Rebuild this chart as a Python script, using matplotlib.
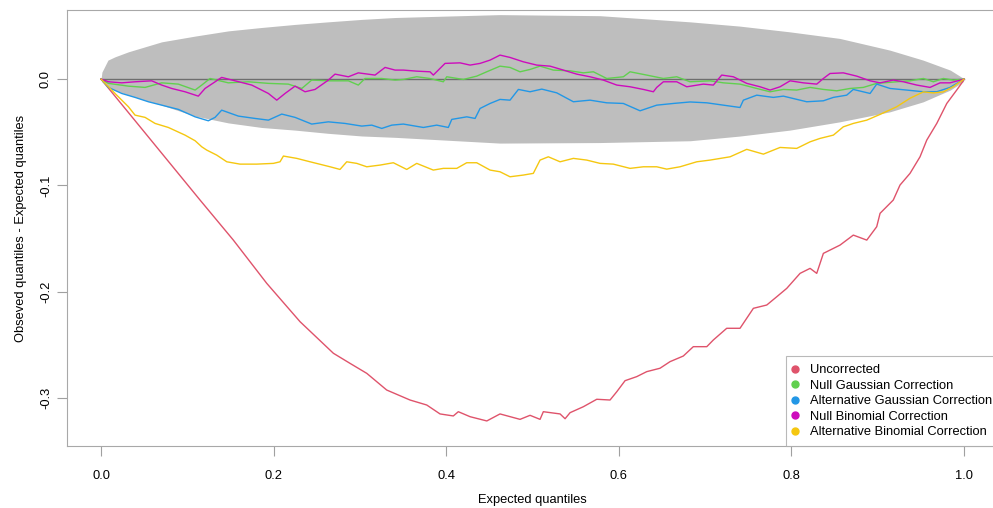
import matplotlib.pyplot as plt
from matplotlib.lines import Line2D

plt.rcParams['font.family'] = ['Liberation Sans', 'DejaVu Sans']

# confidence band around zero (upper and lower edges)
band_x = [0.0, 0.001, 0.008, 0.0162, 0.0317, 0.0703, 0.109, 0.1475, 0.186, 0.225, 0.263,
          0.302, 0.341, 0.462, 0.578, 0.6825, 0.740, 0.798, 0.856, 0.914, 0.9525, 0.984,
          0.9988, 1.0]
band_hi = [0.0, 0.0066, 0.0179, 0.021, 0.0257, 0.0351, 0.0405, 0.0454, 0.0486, 0.0515, 0.0539,
           0.0562, 0.058, 0.0607, 0.0597, 0.0539, 0.0499, 0.0445, 0.0383, 0.0273, 0.0179, 0.0085,
           0.001, 0.0]
band_lo = [0.0, -0.0025, -0.007, -0.0103, -0.0151, -0.0245, -0.0348, -0.0412, -0.0455, -0.048, -0.051,
           -0.0535, -0.0548, -0.0602, -0.0597, -0.058, -0.0536, -0.048, -0.0402, -0.0308, -0.0214, -0.0103,
           -0.0025, 0.0]

unc_x = [0.0, 0.1147, 0.1533, 0.192, 0.2306, 0.2692, 0.2885, 0.3079, 0.331, 0.358, 0.3774,
         0.3928, 0.4082, 0.414, 0.4276, 0.447, 0.4623, 0.4855, 0.4971, 0.5087, 0.5125, 0.5319,
         0.5377, 0.5435, 0.5589, 0.5744, 0.5898, 0.5976, 0.6072, 0.6207, 0.6323, 0.6477, 0.6593,
         0.6747, 0.6863, 0.7019, 0.7095, 0.725, 0.7404, 0.7559, 0.7714, 0.783, 0.7946, 0.81,
         0.8216, 0.8293, 0.837, 0.8563, 0.8717, 0.8873, 0.8988, 0.9027, 0.918, 0.9258, 0.9374,
         0.949, 0.9568, 0.9684, 0.98, 0.9915, 0.9992]
unc_y = [0.0, -0.1138, -0.1515, -0.1922, -0.2283, -0.258, -0.2675, -0.2769, -0.2926, -0.302, -0.3067,
         -0.3151, -0.317, -0.313, -0.3177, -0.3217, -0.3151, -0.3202, -0.3164, -0.3202, -0.313, -0.3151,
         -0.3196, -0.3139, -0.3083, -0.3013, -0.302, -0.2942, -0.2838, -0.28, -0.2753, -0.2721, -0.2659,
         -0.2606, -0.2518, -0.2518, -0.2455, -0.2345, -0.2345, -0.2157, -0.2126, -0.2048, -0.1969, -0.1828,
         -0.1781, -0.1828, -0.164, -0.1562, -0.1468, -0.1515, -0.1389, -0.1263, -0.1138, -0.0997, -0.0887,
         -0.0731, -0.0574, -0.0417, -0.0229, -0.0103, -0.0016]

ng_x = [0.0, 0.0085, 0.0317, 0.051, 0.0703, 0.0896, 0.109, 0.1167, 0.1263, 0.1475, 0.1707,
        0.1939, 0.217, 0.2326, 0.2441, 0.2634, 0.2866, 0.2981, 0.3059, 0.3253, 0.3407, 0.3503,
        0.3658, 0.3812, 0.3966, 0.4006, 0.4198, 0.4353, 0.4469, 0.4623, 0.4739, 0.4855, 0.4971,
        0.5087, 0.5241, 0.5435, 0.5589, 0.5705, 0.586, 0.6052, 0.613, 0.6323, 0.6516, 0.6671,
        0.6825, 0.7057, 0.7211, 0.7404, 0.7598, 0.7752, 0.7906, 0.8061, 0.8216, 0.837, 0.8525,
        0.8679, 0.8833, 0.8988, 0.922, 0.9374, 0.9529, 0.9645, 0.976, 0.9876, 1.0]
ng_y = [0.0, -0.004, -0.0066, -0.0078, -0.0035, -0.0047, -0.0103, -0.0056, 0.0006, -0.0035, -0.0025,
        -0.004, -0.0047, -0.0088, -0.0009, -0.0016, -0.0016, -0.0056, 0.0006, 0.0006, -0.0009, -0.0003,
        0.0022, 0.0006, -0.0025, 0.0022, -0.0003, 0.0028, 0.0069, 0.0122, 0.011, 0.0069, 0.0091,
        0.0122, 0.0085, 0.0078, 0.0059, 0.0069, 0.0006, 0.0022, 0.0069, 0.0038, 0.0006, 0.0022,
        -0.0025, -0.0016, -0.0035, -0.0047, -0.0088, -0.0119, -0.0097, -0.0103, -0.0078, -0.0097, -0.011,
        -0.0088, -0.0078, -0.004, -0.0025, -0.0016, 0.0006, -0.0025, 0.0006, -0.0009, 0.0]

ag_x = [0.0, 0.0085, 0.024, 0.0394, 0.0548, 0.0703, 0.0896, 0.109, 0.1243, 0.1321, 0.1398,
        0.1591, 0.1784, 0.1939, 0.2094, 0.2248, 0.2441, 0.2634, 0.2827, 0.3021, 0.3137, 0.3253,
        0.3369, 0.3503, 0.3735, 0.389, 0.4024, 0.4064, 0.4238, 0.4334, 0.4392, 0.4508, 0.4623,
        0.4739, 0.4836, 0.4971, 0.5107, 0.528, 0.5473, 0.5666, 0.586, 0.6052, 0.6246, 0.6439,
        0.6632, 0.6825, 0.7019, 0.7211, 0.7404, 0.7443, 0.7598, 0.779, 0.7906, 0.8177, 0.837,
        0.8486, 0.864, 0.8717, 0.8911, 0.8988, 0.9143, 0.9336, 0.9529, 0.9684, 0.9838, 1.0]
ag_y = [0.0, -0.0078, -0.0135, -0.0172, -0.0213, -0.0245, -0.0285, -0.0355, -0.0392, -0.036, -0.0292,
        -0.0348, -0.037, -0.0386, -0.0329, -0.036, -0.0423, -0.0402, -0.0417, -0.0442, -0.0433, -0.0464,
        -0.0433, -0.0423, -0.0455, -0.0433, -0.0455, -0.0379, -0.0355, -0.037, -0.0276, -0.0229, -0.0191,
        -0.0198, -0.0097, -0.0119, -0.0094, -0.0129, -0.0213, -0.0198, -0.0223, -0.0229, -0.0298, -0.0245,
        -0.0229, -0.0215, -0.0223, -0.0245, -0.0267, -0.0198, -0.0151, -0.0172, -0.016, -0.0213, -0.0204,
        -0.0172, -0.0151, -0.0097, -0.0135, -0.0047, -0.0088, -0.0103, -0.0119, -0.0119, -0.0078, 0.0]

nb_x = [0.0, 0.0085, 0.024, 0.0394, 0.0587, 0.0703, 0.0819, 0.0973, 0.1127, 0.1205, 0.1398,
        0.1553, 0.1746, 0.1939, 0.2036, 0.2132, 0.2248, 0.2364, 0.248, 0.2634, 0.2711, 0.2866,
        0.2981, 0.3175, 0.3291, 0.3407, 0.3503, 0.3658, 0.3812, 0.385, 0.3986, 0.416, 0.4276,
        0.4392, 0.4508, 0.4623, 0.4739, 0.4893, 0.5049, 0.5203, 0.5357, 0.5512, 0.5666, 0.582,
        0.5976, 0.613, 0.6284, 0.64, 0.6439, 0.6516, 0.6671, 0.6787, 0.6979, 0.7095, 0.7192,
        0.7327, 0.7482, 0.7636, 0.7752, 0.7868, 0.7984, 0.8138, 0.8293, 0.837, 0.8447, 0.8601,
        0.8757, 0.8911, 0.9027, 0.918, 0.9297, 0.9452, 0.9606, 0.9722, 0.9838, 1.0]
nb_y = [0.0, -0.0025, -0.0035, -0.0025, -0.0016, -0.0056, -0.0088, -0.0119, -0.016, -0.0088, 0.0016,
        -0.0016, -0.0056, -0.0135, -0.0198, -0.0135, -0.0066, -0.0119, -0.0097, -0.0009, 0.0047, 0.0022,
        0.0059, 0.0038, 0.011, 0.0085, 0.0085, 0.0075, 0.0069, 0.0038, 0.0148, 0.0153, 0.0132,
        0.0148, 0.0179, 0.0226, 0.0204, 0.0163, 0.0132, 0.0122, 0.0085, 0.0047, 0.0022, -0.0009,
        -0.0056, -0.0072, -0.0097, -0.0119, -0.0078, -0.0025, -0.0025, -0.0072, -0.0047, -0.0056, 0.0038,
        0.0022, -0.004, -0.0072, -0.0103, -0.0072, -0.0016, -0.0035, -0.0047, 0.0006, 0.0053, 0.0059,
        0.0028, -0.0016, -0.0035, -0.0009, -0.0025, -0.0056, -0.0078, -0.0035, -0.0035, 0.0]

ab_x = [0.0, 0.0162, 0.0317, 0.0394, 0.051, 0.0626, 0.078, 0.0973, 0.109, 0.1167, 0.1225,
        0.134, 0.1457, 0.161, 0.1804, 0.1997, 0.2074, 0.2113, 0.2268, 0.2422, 0.2654, 0.2769,
        0.2847, 0.2963, 0.3079, 0.3233, 0.3387, 0.3542, 0.3658, 0.385, 0.3966, 0.4122, 0.4237,
        0.4353, 0.4508, 0.4623, 0.4739, 0.4893, 0.5009, 0.5087, 0.5183, 0.5319, 0.5473, 0.5628,
        0.5782, 0.5936, 0.613, 0.6284, 0.6439, 0.6555, 0.6709, 0.6903, 0.7057, 0.7289, 0.7482,
        0.7675, 0.7868, 0.8061, 0.8216, 0.8331, 0.8486, 0.8601, 0.8717, 0.8873, 0.9027, 0.922,
        0.9374, 0.9529, 0.9645, 0.976, 0.9876, 1.0]
ab_y = [0.0, -0.0135, -0.026, -0.0339, -0.036, -0.0417, -0.0455, -0.0527, -0.058, -0.0637, -0.0668,
        -0.0715, -0.0778, -0.08, -0.08, -0.0793, -0.0778, -0.0724, -0.0746, -0.0778, -0.0825, -0.085,
        -0.0778, -0.0793, -0.0825, -0.0809, -0.0787, -0.085, -0.0793, -0.0856, -0.084, -0.084, -0.0787,
        -0.0787, -0.0856, -0.0872, -0.0919, -0.0903, -0.0887, -0.0762, -0.0731, -0.0778, -0.0746, -0.0762,
        -0.0793, -0.08, -0.084, -0.0825, -0.0825, -0.0847, -0.0825, -0.0778, -0.0762, -0.0731, -0.0661,
        -0.0706, -0.0643, -0.0652, -0.059, -0.0558, -0.0527, -0.0449, -0.0417, -0.0386, -0.0332, -0.026,
        -0.018, -0.012, -0.013, -0.012, -0.007, 0.0]

labels = ["Uncorrected", "Null Gaussian Correction", "Alternative Gaussian Correction",
          "Null Binomial Correction", "Alternative Binomial Correction"]
colors = ["#DF536B", "#61D04F", "#2297E6", "#CD0BBC", "#F5C710"]

fig = plt.figure(figsize=(9.93, 5.08), dpi=100)
ax = fig.add_axes([0.067, 0.122, 0.9386, 0.858])

ax.fill_between(band_x, band_lo, band_hi, color="#BEBEBE", lw=0, zorder=1)
ax.plot([0, 1], [0, 0], color="#6E6E6E", lw=1, zorder=2)

series = [(unc_x, unc_y), (ng_x, ng_y), (ag_x, ag_y), (nb_x, nb_y), (ab_x, ab_y)]
for (xs, ys), c in zip(series, colors):
    ax.plot(xs, ys, color=c, lw=1.0, zorder=3)

ax.set_xlim(-0.04, 1.04)
ax.set_ylim(-0.3453, 0.0649)
ax.set_xticks([0, 0.2, 0.4, 0.6, 0.8, 1.0])
ax.set_xticklabels(["0.0", "0.2", "0.4", "0.6", "0.8", "1.0"])
ax.set_yticks([0, -0.1, -0.2, -0.3])
ax.set_yticklabels(["0.0", "-0.1", "-0.2", "-0.3"], rotation=90, va="center")
ax.tick_params(length=7, width=0.8, color="#A0A0A0", labelsize=9.3)
ax.tick_params(axis="x", pad=10)
ax.tick_params(axis="y", pad=3.5)
for s in ax.spines.values():
    s.set_color("#A8A8A8")
    s.set_linewidth(0.8)

ax.set_xlabel("Expected quantiles", fontsize=9.3, labelpad=9)
ax.set_ylabel("Obseved quantiles - Expected quantiles", fontsize=9.3, labelpad=9)

# legend sits in the bottom-right corner, its right side running past the figure edge
handles = [Line2D([], [], ls="none", marker="o", ms=5, color=c) for c in colors]
leg = ax.legend(handles, labels, loc="lower right", bbox_to_anchor=(1.0018, 0.0),
                fontsize=9.3, frameon=True, fancybox=False, borderaxespad=0,
                handlelength=0.2, handletextpad=1.06, labelspacing=0.27, borderpad=0.6)
leg.get_frame().set_edgecolor("#A8A8A8")
leg.get_frame().set_linewidth(0.8)

fig.savefig("out.png", dpi=100)
